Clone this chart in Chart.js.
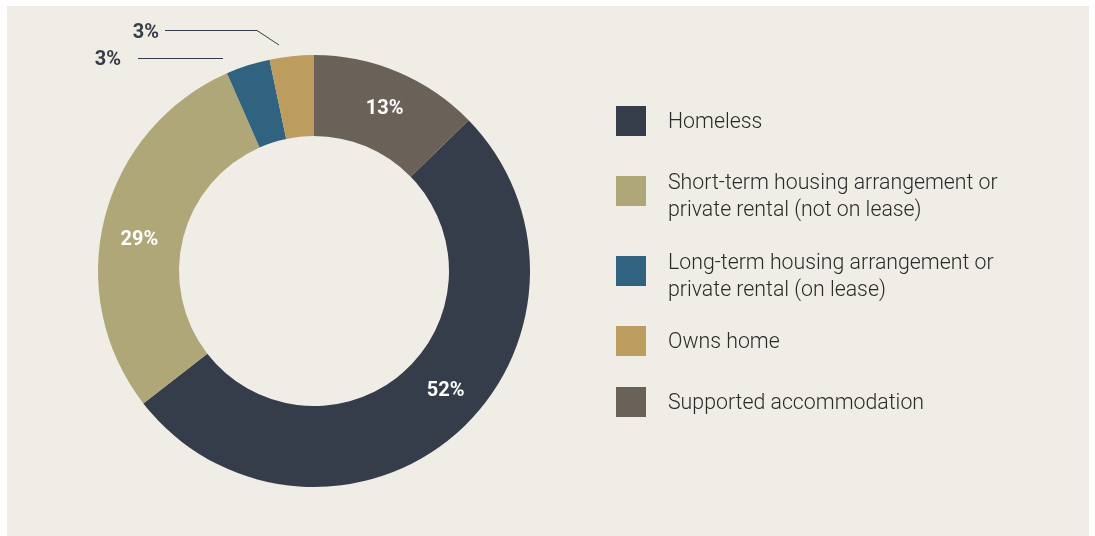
<!DOCTYPE html>
<html>
<head>
<meta charset="utf-8">
<script src="https://cdn.jsdelivr.net/npm/chart.js@4/dist/chart.umd.min.js"></script>
<style>
  html, body { margin: 0; padding: 0; background: #fff; }
  body { width: 1095px; height: 536px; position: relative; overflow: hidden; font-family: Roboto, "Noto Sans", sans-serif; }
  #panel { position: absolute; left: 7px; top: 6px; width: 1082px; height: 530px; background: #f0ede6; }
  #chartBox { position: absolute; left: 0; top: 0; width: 1095px; height: 536px; }
  #legend { position: absolute; left: 616px; top: 0; margin: 0; padding: 0; list-style: none; }
  #legend li { position: absolute; left: 0; width: 440px; }
  #legend .box { position: absolute; left: 0; width: 30px; height: 30px; }
  #legend .txt { position: absolute; left: 52px; font-size: 21.3px; line-height: 27px; color: #2a2a2a; font-weight: 300; white-space: nowrap; }
</style>
</head>
<body>
<div id="panel"></div>
<div id="chartBox"><canvas id="donut"></canvas></div>
<ul id="legend"></ul>
<script>
// --- 데이터 ---
const categories = [
  "Homeless",
  "Short-term housing arrangement or\nprivate rental (not on lease)",
  "Long-term housing arrangement or\nprivate rental (on lease)",
  "Owns home",
  "Supported accommodation",
];
// 그림에서 읽은 조각 크기 (%), 라벨은 반올림해서 표시
const shares = [51.8, 28.9, 3.3, 3.3, 12.7];
const colors = ["#363d4a", "#afa777", "#2f6380", "#bd9c5f", "#6a6158"];

// 시작 각도: 'Supported accommodation' 조각이 12시에서 시작
const startShare = shares[shares.length - 1];

// --- 범례 (HTML) ---
const legendTops = [106, 176, 256, 326, 387];
const legendEl = document.getElementById("legend");
categories.forEach((name, i) => {
  const li = document.createElement("li");
  li.style.top = legendTops[i] + "px";
  const box = document.createElement("span");
  box.className = "box";
  box.style.background = colors[i];
  const txt = document.createElement("span");
  txt.className = "txt";
  const lines = name.split("\n");
  txt.style.top = lines.length > 1 ? "-8px" : "1px";
  txt.innerHTML = lines.join("<br>");
  li.appendChild(box);
  li.appendChild(txt);
  legendEl.appendChild(li);
});

// --- 라벨 플러그인 ---
const labelPlugin = {
  id: "pctLabels",
  afterDatasetsDraw(chart) {
    const ctx = chart.ctx;
    const arcs = chart.getDatasetMeta(0).data;
    ctx.save();
    ctx.font = "bold 20px Roboto, sans-serif";
    ctx.textAlign = "center";
    ctx.textBaseline = "middle";
    // 안쪽 라벨 각도 보정 (라디안)
    const nudge = { 0: -0.119, 1: -0.068, 4: 0.01 };
    arcs.forEach((arc, i) => {
      const p = arc.getProps(["x", "y", "startAngle", "endAngle", "innerRadius", "outerRadius"], true);
      const text = Math.round(shares[i]) + "%";
      if (shares[i] >= 10) {
        const a = (p.startAngle + p.endAngle) / 2 + (nudge[i] || 0);
        const r = (p.innerRadius + p.outerRadius) / 2 + 2;
        ctx.fillStyle = "#ffffff";
        ctx.fillText(text, p.x + Math.cos(a) * r, p.y + Math.sin(a) * r + 1);
      } else {
        // 작은 조각: 지시선 + 바깥 라벨
        const top = p.y - p.outerRadius;
        let pts, tx, ty;
        if (i === 3) {
          pts = [[p.x - 35, top - 10], [p.x - 57, top - 24.5], [p.x - 149, top - 24.5]];
          tx = p.x - 168; ty = top - 22.5;
        } else {
          pts = [[p.x - 91, top + 3.5], [p.x - 176, top + 3.5]];
          tx = p.x - 206; ty = top + 5;
        }
        ctx.strokeStyle = "#363d4a";
        ctx.lineWidth = 1;
        ctx.beginPath();
        pts.forEach((pt, k) => (k ? ctx.lineTo(pt[0], pt[1]) : ctx.moveTo(pt[0], pt[1])));
        ctx.stroke();
        ctx.fillStyle = "#363d4a";
        ctx.fillText(text, tx, ty);
      }
    });
    ctx.restore();
  },
};

// --- 차트 ---
const donut = new Chart(document.getElementById("donut"), {
  type: "doughnut",
  data: {
    labels: categories,
    datasets: [
      {
        data: shares,
        backgroundColor: colors,
        borderWidth: 0,
      },
    ],
  },
  options: {
    responsive: true,
    maintainAspectRatio: false,
    animation: false,
    cutout: "62.5%",
    rotation: (startShare / 100) * 360,
    layout: { padding: { left: 98, top: 55, right: 565, bottom: 49 } },
    plugins: {
      legend: { display: false },
      tooltip: { enabled: false },
    },
  },
  plugins: [labelPlugin],
});
</script>
</body>
</html>
